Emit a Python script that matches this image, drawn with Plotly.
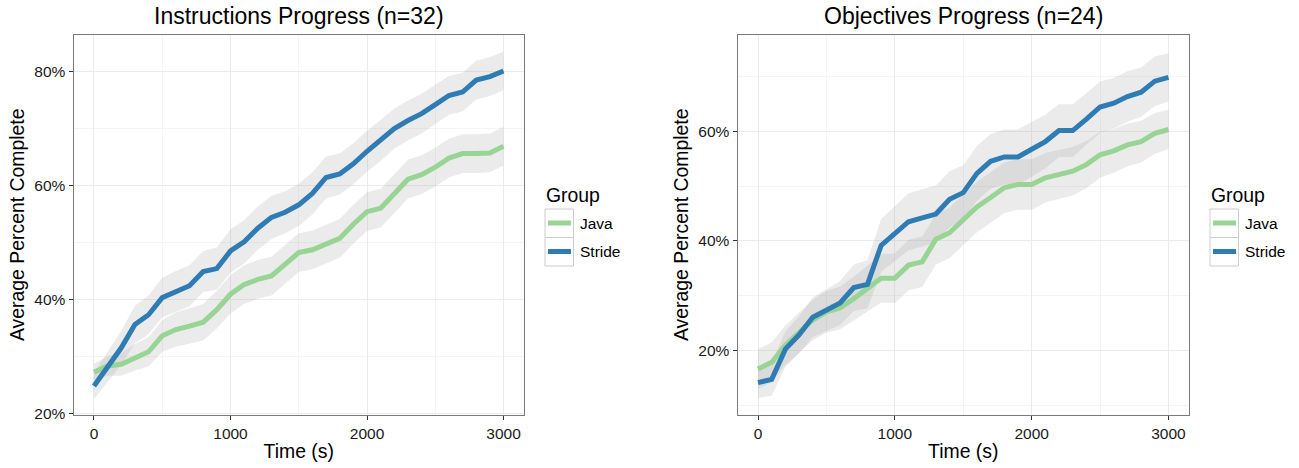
import plotly.graph_objects as go

# ---------------- data ----------------
time_s = [0, 100, 200, 300, 400, 500, 600, 700, 800, 900, 1000,
          1100, 1200, 1300, 1400, 1500, 1600, 1700, 1800, 1900, 2000,
          2100, 2200, 2300, 2400, 2500, 2600, 2700, 2800, 2900, 3000]

groups = ["Java", "Stride"]

# Instructions Progress (n=32) – mean percent complete
instr_java = [27.2, 28.3, 28.6, 29.8, 30.8, 33.6, 34.7, 35.3, 36.0, 38.2, 40.9,
              42.6, 43.5, 44.1, 46.2, 48.2, 48.7, 49.7, 50.7, 53.2, 55.4,
              56.0, 58.6, 61.1, 61.9, 63.2, 64.8, 65.6, 65.6, 65.7, 66.9]
instr_stride = [24.8, 28.1, 31.5, 35.6, 37.3, 40.3, 41.4, 42.4, 44.9, 45.4, 48.5,
                50.1, 52.5, 54.4, 55.3, 56.6, 58.6, 61.4, 62.0, 63.8, 66.0,
                67.9, 70.0, 71.4, 72.6, 74.2, 75.8, 76.4, 78.5, 79.1, 80.1]
# ribbon half-widths (percentage points)
instr_java_hw = [1.5, 1.7, 2.0, 2.3, 2.6, 2.8, 3.0, 3.1, 3.2, 3.3, 3.4,
                 3.4, 3.4, 3.4, 3.4, 3.4, 3.4, 3.4, 3.4, 3.4, 3.4,
                 3.4, 3.4, 3.4, 3.4, 3.4, 3.4, 3.4, 3.4, 3.4, 3.4]
instr_stride_hw = [2.3, 2.6, 3.0, 3.3, 3.4, 3.5, 3.6, 3.6, 3.6, 3.7, 3.8,
                   3.8, 3.8, 3.8, 3.7, 3.7, 3.7, 3.7, 3.6, 3.6, 3.6,
                   3.6, 3.5, 3.5, 3.5, 3.5, 3.4, 3.4, 3.4, 3.4, 3.4]

# Objectives Progress (n=24)
obj_java = [16.7, 17.9, 21.0, 23.3, 25.6, 27.1, 27.8, 29.5, 31.3, 33.2, 33.2,
            35.6, 36.2, 40.3, 41.5, 43.8, 46.2, 47.9, 49.7, 50.3, 50.3,
            51.5, 52.1, 52.7, 53.9, 55.7, 56.4, 57.5, 58.1, 59.6, 60.3]
obj_stride = [14.2, 14.8, 20.3, 22.9, 26.1, 27.4, 28.7, 31.5, 32.1, 39.2, 41.3,
              43.5, 44.2, 44.9, 47.6, 48.8, 52.3, 54.5, 55.3, 55.3, 56.7,
              58.1, 60.1, 60.1, 62.2, 64.4, 65.1, 66.3, 67.1, 69.1, 69.8]
obj_java_hw = [3.6, 3.6, 3.6, 3.6, 3.7, 3.8, 3.9, 4.0, 4.2, 4.4, 4.5,
               4.6, 4.6, 4.6, 4.6, 4.6, 4.6, 4.6, 4.6, 4.6, 4.6,
               4.5, 4.4, 4.4, 4.3, 4.2, 4.0, 3.9, 3.8, 3.7, 3.6]
obj_stride_hw = [2.8, 3.0, 3.2, 3.4, 3.6, 3.8, 4.0, 4.2, 4.4, 4.8, 5.0,
                 5.2, 5.2, 5.2, 5.1, 5.0, 5.0, 5.0, 5.0, 5.0, 5.0,
                 4.9, 4.8, 4.8, 4.7, 4.7, 4.6, 4.6, 4.5, 4.5, 4.4]

x_ticks = [0, 1000, 2000, 3000]
instr_y_ticks = [20, 40, 60, 80]
obj_y_ticks = [20, 40, 60]

titles = ["Instructions Progress (n=32)", "Objectives Progress (n=24)"]

# ---------------- styling ----------------
W, H = 1299, 468
COLORS = {"Java": "#98d493", "Stride": "#2f7bb4"}
RIBBON = "rgba(153,153,153,0.2)"
FONT = "Liberation Sans, Arial, Helvetica, sans-serif"


def px(x):
    return x / W


def py(y):
    return 1 - y / H


panels = [
    dict(xd=(73.5, 524), yr=[19.7, 86.5], yminor=[30, 50, 70], yt=instr_y_ticks,
         series={"Java": (instr_java, instr_java_hw), "Stride": (instr_stride, instr_stride_hw)},
         title=titles[0], leg_x=545),
    dict(xd=(737.5, 1189), yr=[8.3, 77.6], yminor=[10, 30, 50, 70], yt=obj_y_ticks,
         series={"Java": (obj_java, obj_java_hw), "Stride": (obj_stride, obj_stride_hw)},
         title=titles[1], leg_x=1210),
]

fig = go.Figure()
layout = dict(width=W, height=H, margin=dict(l=0, r=0, t=0, b=0),
              paper_bgcolor="white", plot_bgcolor="white",
              font=dict(family=FONT, color="black"), showlegend=False)
shapes, annotations = [], []

for k, p in enumerate(panels, start=1):
    xa = "x" if k == 1 else f"x{k}"
    ya = "y" if k == 1 else f"y{k}"
    # ribbons first
    for g in groups:
        m, hw = p["series"][g]
        upper = [a + b for a, b in zip(m, hw)]
        lower = [a - b for a, b in zip(m, hw)]
        fig.add_trace(go.Scatter(x=time_s, y=upper, mode="lines", line=dict(width=0),
                                 hoverinfo="skip", xaxis=xa, yaxis=ya))
        fig.add_trace(go.Scatter(x=time_s, y=lower, mode="lines", line=dict(width=0),
                                 fill="tonexty", fillcolor=RIBBON, hoverinfo="skip",
                                 xaxis=xa, yaxis=ya))
    for g in groups:
        m, _ = p["series"][g]
        fig.add_trace(go.Scatter(x=time_s, y=m, mode="lines", name=g,
                                 line=dict(color=COLORS[g], width=5),
                                 xaxis=xa, yaxis=ya))

    axis_common = dict(showline=True, linecolor="#7a7a7a", linewidth=1, mirror=True,
                       ticks="outside", ticklen=4, tickwidth=1, tickcolor="#333333",
                       showgrid=True, gridcolor="#ebebeb", gridwidth=1,
                       zeroline=False, tickfont=dict(size=15.5, color="#1a1a1a", family=FONT),
                       automargin=False)
    layout["xaxis" if k == 1 else f"xaxis{k}"] = dict(
        axis_common, domain=[px(p["xd"][0]), px(p["xd"][1])], range=[-150, 3150],
        tickvals=x_ticks, ticktext=[str(v) for v in x_ticks], anchor=ya,
        minor=dict(tickvals=[500, 1500, 2500], showgrid=True, gridcolor="#f4f4f4",
                   gridwidth=1, ticks=""),
        title=dict(text="Time (s)", font=dict(size=19.4, family=FONT), standoff=3))
    layout["yaxis" if k == 1 else f"yaxis{k}"] = dict(
        axis_common, domain=[py(415), py(34.5)], range=p["yr"], tickvals=p["yt"],
        ticktext=[f"{v}%" for v in p["yt"]], anchor=xa,
        minor=dict(tickvals=p["yminor"], showgrid=True, gridcolor="#f4f4f4",
                   gridwidth=1, ticks=""),
        title=dict(text="Average Percent Complete", font=dict(size=19.4, family=FONT),
                   standoff=4))

    cx = (p["xd"][0] + p["xd"][1]) / 2
    annotations.append(dict(text=p["title"], x=px(cx), y=py(16), xref="paper", yref="paper",
                            showarrow=False, xanchor="center", yanchor="middle",
                            font=dict(size=23, family=FONT, color="black")))

    # legend (ggplot style keys)
    lx = p["leg_x"]
    annotations.append(dict(text="Group", x=px(lx - 1), y=py(195), xref="paper", yref="paper",
                            showarrow=False, xanchor="left", yanchor="middle",
                            font=dict(size=19.4, family=FONT, color="black")))
    for j, g in enumerate(groups):
        top = 209 + j * 28.5
        shapes.append(dict(type="rect", xref="paper", yref="paper",
                           x0=px(lx), x1=px(lx + 28.5), y0=py(top + 28.5), y1=py(top),
                           line=dict(color="#cccccc", width=1), fillcolor="white"))
        shapes.append(dict(type="line", xref="paper", yref="paper",
                           x0=px(lx + 3), x1=px(lx + 26), y0=py(top + 14), y1=py(top + 14),
                           line=dict(color=COLORS[g], width=5)))
        annotations.append(dict(text=g, x=px(lx + 33), y=py(top + 14), xref="paper",
                                yref="paper", showarrow=False, xanchor="left",
                                yanchor="middle",
                                font=dict(size=15.5, family=FONT, color="black")))

layout["shapes"] = shapes
layout["annotations"] = annotations
fig.update_layout(**layout)
# remove the default page margin so the figure fills the window exactly
fig.write_html("out.html", config={"displayModeBar": False},
               post_script="document.body.style.margin='0';document.body.style.overflow='hidden';")
